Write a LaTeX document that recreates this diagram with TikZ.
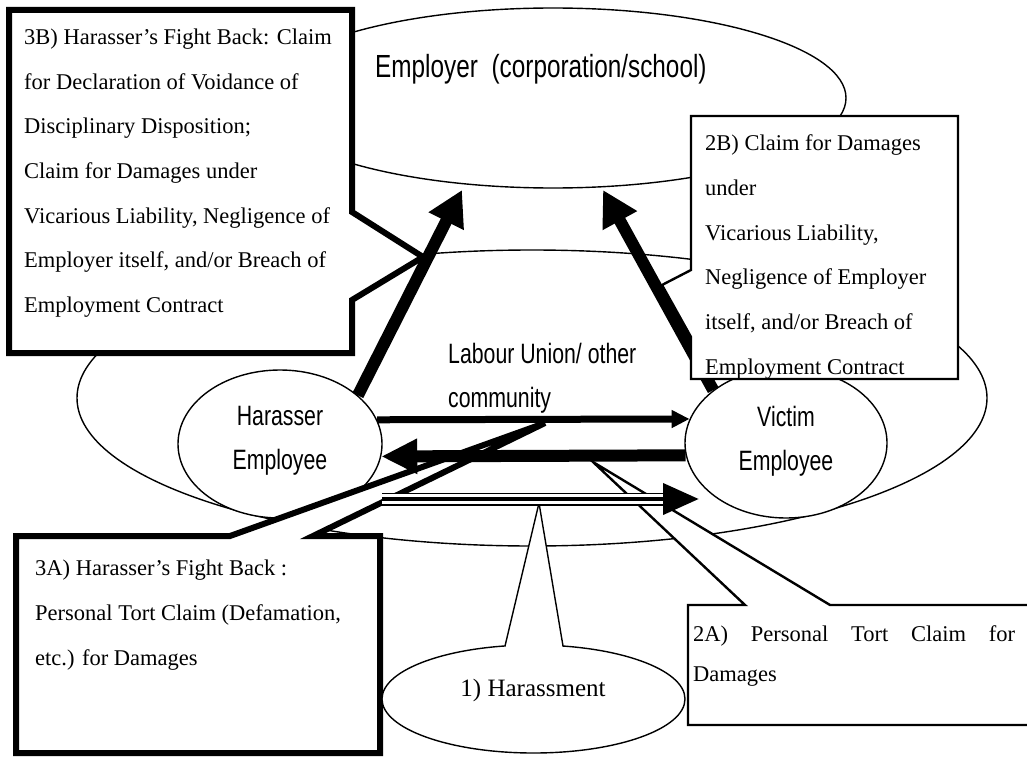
\documentclass[tikz,border=0pt]{standalone}
\usepackage{fontspec}
\setmainfont{Liberation Serif}
\newfontfamily\gothic[FakeStretch=0.76]{Liberation Sans}
\usetikzlibrary{shapes.geometric,arrows.meta}

\begin{document}
\begin{tikzpicture}[x=1pt, y=-1pt,
	blob/.style = {draw, ellipse, fill=white, line width=1.4pt, inner sep=0pt},
	who/.style = {blob, align=center, font=\gothic\fontsize{28}{44}\selectfont},
	note/.style = {align=left, anchor=north west, inner sep=0pt, font=\fontsize{22.5}{44.7}\selectfont},
	fat/.style = {draw, fill=white, line width=6pt, line join=miter},
	slim/.style = {draw, fill=white, line width=2.4pt, line join=miter},
	heavy/.style = {line width=12pt, -{Triangle[length=35pt,width=37pt]}},
	light/.style = {line width=7pt, -{Triangle[length=18pt,width=17pt]}}]
	\useasboundingbox (0,0) rectangle (1027,757);
	\clip (0,0) rectangle (1027,757);

	\node[blob, minimum width=910pt, minimum height=296pt] (union) at (532,398) {};
	\node[blob, minimum width=586pt, minimum height=180pt] (employer) at (553,98) {};
	\node[anchor=base west, inner sep=0pt, font=\gothic\fontsize{32}{38}\selectfont] (emptxt) at (375,78) {Employer\hspace{7pt} (corporation/school)};
	\node[anchor=west, inner sep=0pt, align=left, font=\gothic\fontsize{28}{44}\selectfont] (uniontxt) at (448,378) {Labour Union/ other\\community};
	\node[who, minimum width=204pt, minimum height=148pt] (harasser) at (280,444) {Harasser\\Employee\rule[-12pt]{0pt}{12pt}};
	\node[who, minimum width=202pt, minimum height=150pt] (victim) at (786,443) {Victim\\Employee\rule[-10pt]{0pt}{10pt}};

	% callouts under the arrows
	\draw[fat] (9,10) -- (352,10) -- (352,212) -- (423,257) -- (352,300) -- (352,353) -- (9,353) -- cycle;
	\node[note] (t3b) at (24,28.5) {3B) Harasser's Fight Back: Claim\\for Declaration of Voidance of\\Disciplinary Disposition;\\Claim for Damages under\\Vicarious Liability, Negligence of\\Employer itself, and/or Breach of\\Employment Contract};

	\draw[fat] (16,536) -- (230,536) -- (545,423) -- (313,536) -- (380,536) -- (380,753) -- (16,753) -- cycle;
	\node[note, font=\fontsize{22.5}{45}\selectfont] (t3a) at (35,559.5) {3A) Harasser's Fight Back :\\Personal Tort Claim (Defamation,\\etc.) for Damages};

	\draw[slim] (688,605) -- (745,605) -- (593,462) -- (830,605) -- (1040,605) -- (1040,725) -- (688,725) -- cycle;
	\node[note, font=\fontsize{22.5}{40}\selectfont] (t2a) at (693,625) {\makebox[322pt][s]{2A) Personal Tort Claim for}\\Damages};

	\node[blob, minimum width=303pt, minimum height=108pt] (harass) at (533.5,699) {};
	\fill[white] (505.5,648) -- (539,503) -- (562.5,648) -- cycle;
	\draw[line width=1.4pt] (505,646) -- (539,503) -- (563,646);
	\node[anchor=base, inner sep=0pt, font=\fontsize{25}{30}\selectfont] (harasstxt) at (533,696) {1) Harassment};

	% arrows
	\coordinate (hitL) at (462,190);
	\coordinate (hitR) at (603,190);
	\draw[heavy] (harasser.32) -- (hitL);
	\draw[heavy] (victim.144) -- (hitR);
	\draw[light] (harasser.14) -- (victim.166);
	\draw[line width=12pt, -{Triangle[length=36pt,width=33pt]}] (victim.187) -- (harasser.353);

	\coordinate (harFrom) at (382,499);
	\coordinate (harTo) at (700,499);
	\draw[line width=13pt, -{Triangle[length=37pt,width=29pt]}] (harFrom) -- (harTo);
	\draw[white, line width=10pt, shorten >=37pt] (harFrom) -- (harTo);
	\draw[line width=4pt, shorten >=37pt] (harFrom) -- (harTo);

	% this one sits over the arrow
	\draw[slim] (691,116) -- (958,116) -- (958,379) -- (691,379) -- (691,337) -- (662,285) -- (691,270) -- cycle;
	\node[note] (t2b) at (705,134.8) {2B) Claim for Damages\\under\\Vicarious Liability,\\Negligence of Employer\\itself, and/or Breach of\\Employment Contract};
\end{tikzpicture}
\end{document}
